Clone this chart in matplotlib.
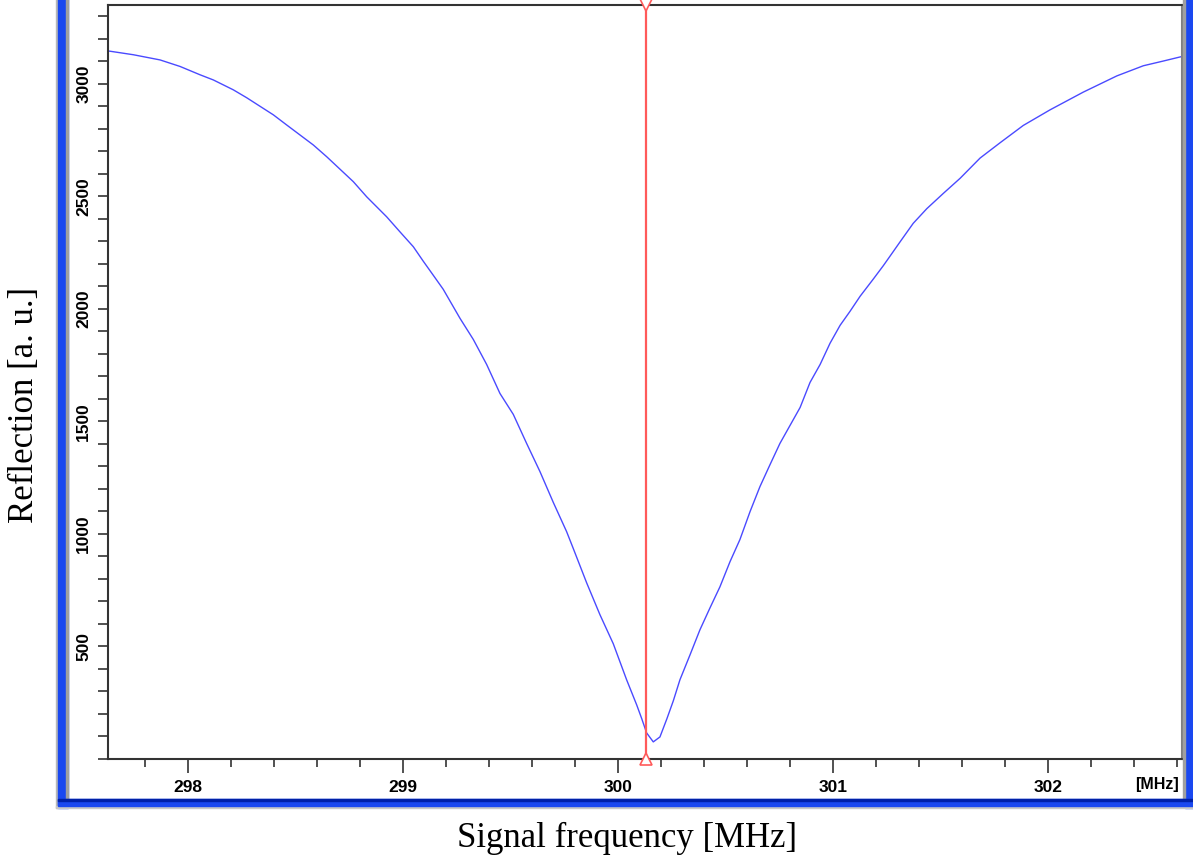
import matplotlib
matplotlib.use("Agg")
import matplotlib.pyplot as plt
from matplotlib.patches import Rectangle
from matplotlib.ticker import MultipleLocator

# Reflection trace
freq_mhz = [297.628, 297.746, 297.870, 297.963, 298.056, 298.118, 298.211,
            298.273, 298.397, 298.459, 298.583, 298.645, 298.769, 298.831,
            298.924, 298.986, 299.048, 299.094, 299.141, 299.187, 299.265,
            299.327, 299.389, 299.451, 299.513, 299.575, 299.637, 299.699,
            299.761, 299.792, 299.854, 299.916, 299.978, 300.040, 300.087,
            300.110, 300.133, 300.164, 300.195, 300.227, 300.257, 300.288,
            300.335, 300.381, 300.428, 300.474, 300.521, 300.567, 300.614,
            300.660, 300.707, 300.753, 300.800, 300.847, 300.893, 300.940,
            300.986, 301.033, 301.079, 301.126, 301.187, 301.234, 301.265,
            301.312, 301.373, 301.436, 301.513, 301.591, 301.684, 301.777,
            301.885, 302.009, 302.164, 302.320, 302.443, 302.536, 302.622]
reflection = [3146, 3129, 3106, 3077, 3040, 3017, 2973,
              2938, 2862, 2817, 2728, 2676, 2565, 2498,
              2409, 2342, 2276, 2212, 2149, 2087, 1958,
              1864, 1753, 1624, 1531, 1402, 1277, 1140,
              1010, 935, 783, 641, 512, 352, 240,
              180, 116, 76, 98, 178, 258, 352,
              463, 574, 672, 765, 877, 975, 1099,
              1210, 1308, 1402, 1482, 1562, 1673, 1753,
              1847, 1927, 1989, 2056, 2132, 2192, 2234,
              2298, 2380, 2445, 2513, 2580, 2670, 2738,
              2815, 2884, 2963, 3035, 3080, 3101, 3121]

marker_freq = 300.13
x_range = (297.628, 302.623)
y_range = (0, 3350)
y_labels = [500, 1000, 1500, 2000, 2500, 3000]
x_labels = [298, 299, 300, 301, 302]

W, H = 1193, 858
fig = plt.figure(figsize=(W / 100, H / 100), dpi=100)

# blue window frame around the plot
blue = '#1a48f0'
dark = '#0020a8'
fb = (H - 808) / H


def strip(x0, y0, w, h, color):
    fig.patches.append(Rectangle((x0 / W, y0), w / W, h, transform=fig.transFigure,
                                 color=color, zorder=0))


strip(56, fb, 2, 1, '#b8b8b8')
strip(58, fb, 10, 1, blue)
strip(66, (H - 799) / H, 2, 1, '#a0a0a0')
strip(1185, fb, 8, 1, blue)
strip(1183, (H - 799) / H, 2, 1, '#a0a0a0')
strip(56, fb, W - 56, 2 / H, '#c8c8c8')
strip(58, (H - 806) / H, W - 58, 7 / H, blue)
strip(58, (H - 801) / H, W - 58, 2 / H, dark)

ax = fig.add_axes([108 / W, (H - 759) / H, (1182 - 108) / W, (759 - 5) / H])

ax.plot(freq_mhz, reflection, color='#4a4aff', linewidth=1.0)
ax.axvline(marker_freq, color='#ff5a5a', linewidth=1.6)
ax.plot([marker_freq], [y_range[0]], marker='^', markersize=8, markerfacecolor='white',
        markeredgecolor='#ff5a5a', markeredgewidth=1.2, clip_on=False, zorder=5)
ax.plot([marker_freq], [y_range[1]], marker='v', markersize=8, markerfacecolor='white',
        markeredgecolor='#ff5a5a', markeredgewidth=1.2, clip_on=False, zorder=5)

ax.set_xlim(*x_range)
ax.set_ylim(*y_range)

ax.set_xticks(x_labels)
ax.set_yticks(y_labels)
ax.xaxis.set_minor_locator(MultipleLocator(0.2))
ax.yaxis.set_minor_locator(MultipleLocator(100))

tick_font = dict(family='Liberation Sans', weight='bold', size=12.5)
ax.set_xticklabels([str(v) for v in x_labels], **tick_font)
ax.set_yticklabels([str(v) for v in y_labels], rotation=90, va='center', **tick_font)

ax.tick_params(axis='x', which='major', length=10, width=1.2, pad=5, color='#333333')
ax.tick_params(axis='x', which='minor', length=6, width=1.2, color='#333333')
ax.tick_params(axis='y', which='both', length=7, width=1.2, pad=5, color='#333333')

for side in ['left', 'bottom', 'top']:
    ax.spines[side].set_color('#333333')
    ax.spines[side].set_linewidth(1.5)
ax.spines['right'].set_color('#808080')
ax.spines['right'].set_linewidth(1.5)

ax.annotate('[MHz]', xy=(1, 0), xycoords='axes fraction', xytext=(-3, -26),
            textcoords='offset pixels', ha='right', va='center',
            family='Liberation Sans', weight='bold', size=11.5)

fig.text(627 / W, 1 - 838 / H, 'Signal frequency [MHz]', family='Liberation Serif',
         fontsize=25, ha='center', va='center')
fig.text(25 / W, 1 - 405 / H, 'Reflection [a. u.]', family='Liberation Serif',
         fontsize=25, ha='center', va='center', rotation=90)

fig.savefig('out.png', dpi=100)
